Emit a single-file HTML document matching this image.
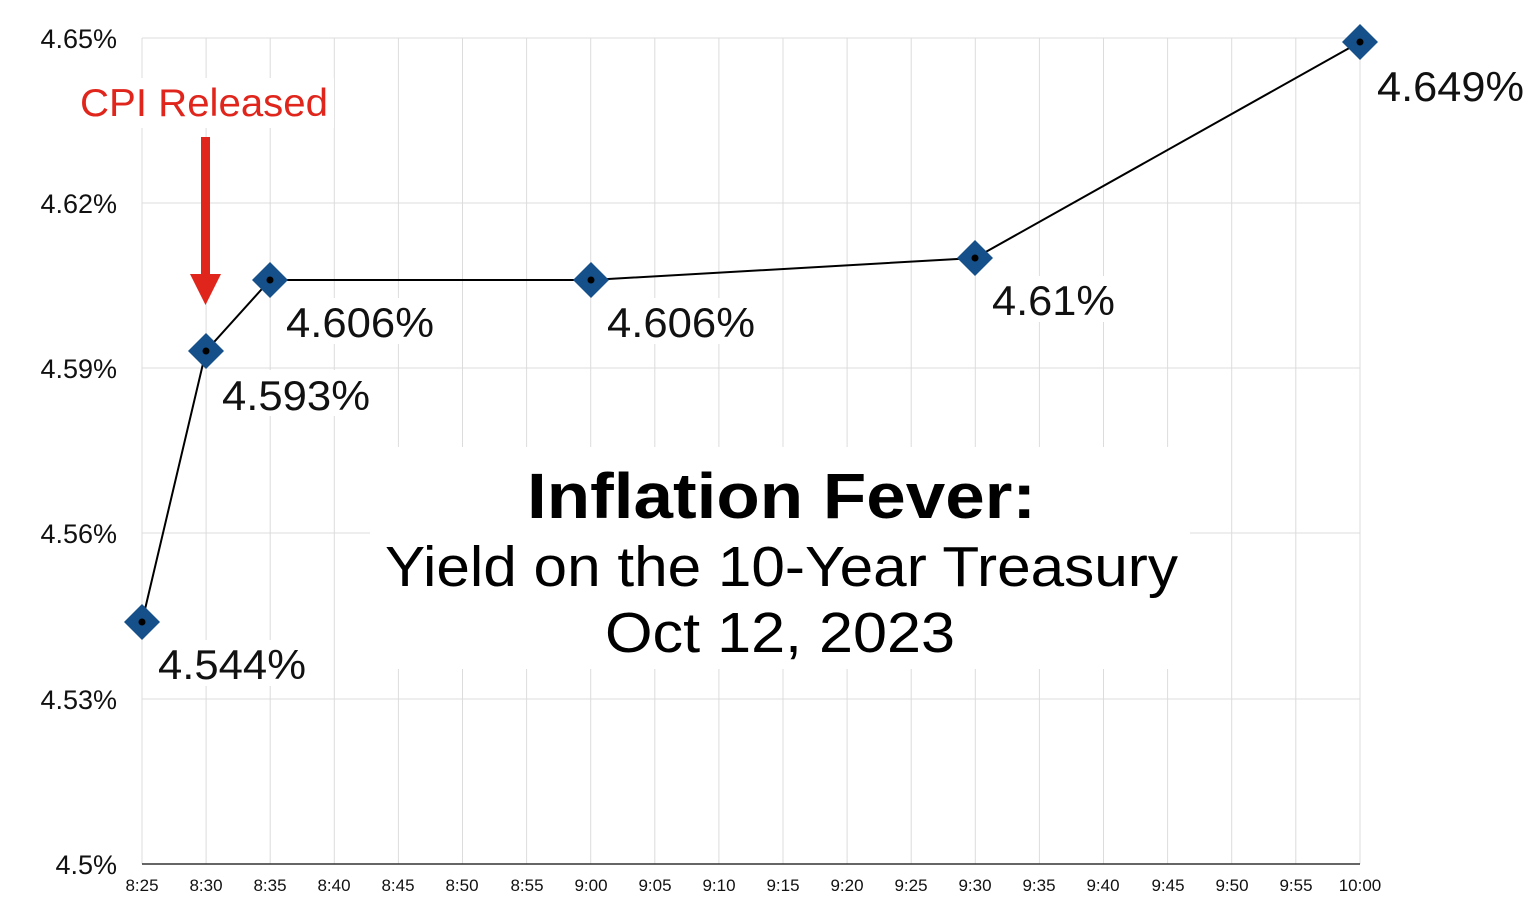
<!DOCTYPE html>
<html><head><style>body{margin:0;background:#fff}svg{display:block}text{font-family:"Liberation Sans",Arial,sans-serif}</style></head><body>
<svg width="1529" height="900" viewBox="0 0 1529 900" xmlns="http://www.w3.org/2000/svg">
<g stroke="#dcdcdc" stroke-width="1">
<line x1="142" y1="38" x2="1360" y2="38"/><line x1="142" y1="203" x2="1360" y2="203"/><line x1="142" y1="368" x2="1360" y2="368"/><line x1="142" y1="533" x2="1360" y2="533"/><line x1="142" y1="699" x2="1360" y2="699"/>
<line x1="142.0" y1="38" x2="142.0" y2="864"/><line x1="206.1" y1="38" x2="206.1" y2="864"/><line x1="270.2" y1="38" x2="270.2" y2="864"/><line x1="334.3" y1="38" x2="334.3" y2="864"/><line x1="398.4" y1="38" x2="398.4" y2="864"/><line x1="462.5" y1="38" x2="462.5" y2="864"/><line x1="526.6" y1="38" x2="526.6" y2="864"/><line x1="590.7" y1="38" x2="590.7" y2="864"/><line x1="654.8" y1="38" x2="654.8" y2="864"/><line x1="718.9" y1="38" x2="718.9" y2="864"/><line x1="783.0" y1="38" x2="783.0" y2="864"/><line x1="847.1" y1="38" x2="847.1" y2="864"/><line x1="911.2" y1="38" x2="911.2" y2="864"/><line x1="975.3" y1="38" x2="975.3" y2="864"/><line x1="1039.4" y1="38" x2="1039.4" y2="864"/><line x1="1103.5" y1="38" x2="1103.5" y2="864"/><line x1="1167.6" y1="38" x2="1167.6" y2="864"/><line x1="1231.7" y1="38" x2="1231.7" y2="864"/><line x1="1295.8" y1="38" x2="1295.8" y2="864"/><line x1="1360.0" y1="38" x2="1360.0" y2="864"/>
</g>
<line x1="142" y1="864" x2="1360" y2="864" stroke="#333" stroke-width="1.5"/>
<g fill="#fff">
<rect x="370" y="447" width="820" height="222"/>
<rect x="76" y="78" width="258" height="50"/>
<rect x="152" y="640" width="160" height="46"/>
<rect x="216" y="370" width="160" height="46"/>
<rect x="280" y="298" width="160" height="46"/>
<rect x="602" y="298" width="160" height="46"/>
<rect x="986" y="276" width="135" height="46"/>
<rect x="1372" y="62" width="157" height="46"/>
</g>
<g font-size="27" fill="#111" text-anchor="end">
<text x="117" y="48">4.65%</text><text x="117" y="213">4.62%</text><text x="117" y="378">4.59%</text><text x="117" y="543">4.56%</text><text x="117" y="709">4.53%</text><text x="117" y="874">4.5%</text>
</g>
<g font-size="17" fill="#111" text-anchor="middle">
<text x="142" y="891">8:25</text><text x="206" y="891">8:30</text><text x="270" y="891">8:35</text><text x="334" y="891">8:40</text><text x="398" y="891">8:45</text><text x="462" y="891">8:50</text><text x="527" y="891">8:55</text><text x="591" y="891">9:00</text><text x="655" y="891">9:05</text><text x="719" y="891">9:10</text><text x="783" y="891">9:15</text><text x="847" y="891">9:20</text><text x="911" y="891">9:25</text><text x="975" y="891">9:30</text><text x="1039" y="891">9:35</text><text x="1103" y="891">9:40</text><text x="1168" y="891">9:45</text><text x="1232" y="891">9:50</text><text x="1296" y="891">9:55</text><text x="1360" y="891">10:00</text>
</g>
<polyline points="142,622 206,351 270,280 591,280 975,258 1360,42" fill="none" stroke="#000" stroke-width="2"/>
<g fill="#15508a">
<path d="M142 604 L160 622 L142 640 L124 622Z"/><path d="M206 333 L224 351 L206 369 L188 351Z"/><path d="M270 262 L288 280 L270 298 L252 280Z"/><path d="M591 262 L609 280 L591 298 L573 280Z"/><path d="M975 240 L993 258 L975 276 L957 258Z"/><path d="M1360 24 L1378 42 L1360 60 L1342 42Z"/>
</g>
<g fill="#000"><circle cx="142" cy="622" r="3.5"/><circle cx="206" cy="351" r="3.5"/><circle cx="270" cy="280" r="3.5"/><circle cx="591" cy="280" r="3.5"/><circle cx="975" cy="258" r="3.5"/><circle cx="1360" cy="42" r="3.5"/></g>
<g font-size="42" fill="#111">
<text x="158" y="679" textLength="148" lengthAdjust="spacingAndGlyphs">4.544%</text><text x="222" y="410" textLength="148" lengthAdjust="spacingAndGlyphs">4.593%</text><text x="286" y="337" textLength="148" lengthAdjust="spacingAndGlyphs">4.606%</text><text x="607" y="337" textLength="148" lengthAdjust="spacingAndGlyphs">4.606%</text><text x="992" y="315" textLength="123" lengthAdjust="spacingAndGlyphs">4.61%</text><text x="1377" y="101" textLength="147" lengthAdjust="spacingAndGlyphs">4.649%</text>
</g>
<text x="80" y="116" font-size="39" fill="#e0261c" textLength="248" lengthAdjust="spacingAndGlyphs">CPI Released</text>
<rect x="201" y="137" width="9" height="140" fill="#e0261c"/>
<path d="M190 274 L221 274 L205.5 305Z" fill="#e0261c"/>
<g fill="#000">
<text x="527" y="518" font-size="64" font-weight="bold" textLength="509" lengthAdjust="spacingAndGlyphs">Inflation Fever:</text>
<text x="385" y="586" font-size="57" textLength="793" lengthAdjust="spacingAndGlyphs">Yield on the 10-Year Treasury</text>
<text x="605" y="652" font-size="57" textLength="350" lengthAdjust="spacingAndGlyphs">Oct 12, 2023</text>
</g>
</svg>
</body></html>
